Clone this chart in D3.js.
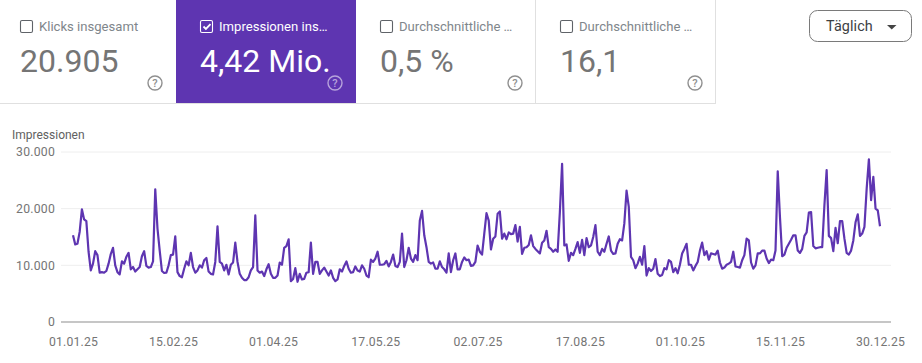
<!DOCTYPE html>
<html><head><meta charset="utf-8">
<script src="https://cdnjs.cloudflare.com/ajax/libs/d3/7.8.5/d3.min.js"></script>
<style>html,body{margin:0;padding:0;background:#fff;overflow:hidden}svg{display:block}text{font-family:Roboto,sans-serif}</style>
</head><body><svg id="c" width="922" height="363"></svg>
<script>
const cardTitles=["Klicks insgesamt","Impressionen ins…","Durchschnittliche …","Durchschnittliche …"];
const cardValues=["20.905","4,42 Mio.","0,5 %","16,1"];
const cardActive=[false,true,false,false];
const yTicks=[0,10000,20000,30000];
const yTickLabels=["0","10.000","20.000","30.000"];
const xTickLabels=["01.01.25","15.02.25","01.04.25","17.05.25","02.07.25","17.08.25","01.10.25","15.11.25","30.12.25"];
const startDate="2025-01-01";
const impressions=[
15300,13700,13800,15900,19900,18100,17800,12400,9100,10300,12500,11800,8700,8800,8700,9000,10300,12000,13100,10000,
8800,8400,10700,10300,11500,12200,9300,9700,8900,9300,9700,11600,12500,9900,9600,9700,10700,23400,16500,12600,
9000,8650,8700,10000,11800,11900,15100,8800,8100,7900,9400,10700,10000,12200,9700,8700,9100,10000,9600,10900,
11300,8900,8500,8400,10600,16900,10600,10300,9100,10100,8400,10100,10500,14000,10600,8500,7800,7400,7400,7900,
9100,9700,18800,9100,8700,8900,8100,9300,10200,8500,7800,7800,8200,10500,10100,13100,13400,14600,7200,7600,
9500,7100,8500,7500,7600,8700,8800,14000,8500,10600,10600,8500,9100,9600,8900,8200,9100,7800,7200,7500,
9300,8900,9900,10700,9400,8700,8800,9800,9100,8900,10000,9400,8200,7900,11000,10600,11200,12400,10100,10100,
10200,10800,9800,10600,11900,9900,9700,10600,15600,9700,10900,13100,11200,10600,11800,10900,17900,19600,15300,13200,
10600,10300,10500,9400,9400,10700,9700,9300,8700,12100,8800,10900,12100,9300,9300,10600,11400,10900,11000,9900,
10000,10600,13500,12400,11900,15600,19200,17900,12800,14700,15100,19100,19500,14700,15600,14600,15800,15500,15600,17100,
14200,16800,12000,13100,13200,13600,15300,13400,12900,12500,12100,14000,14400,16100,13200,12900,12400,12800,12400,19400,
27900,13500,13700,10800,12200,11800,12900,14100,12200,14500,11800,14800,13200,13500,15000,17100,12400,11800,12900,12400,
13800,15100,12600,12000,12100,13800,14600,14400,17400,23200,20300,11500,10900,9500,10300,11500,10100,13400,8200,9500,
9000,9400,11100,8500,8100,8300,9500,9300,10900,10600,8800,9500,8600,10100,12100,12900,13800,10100,10100,9100,
9900,10600,12600,14000,11800,12500,11000,12100,12000,11900,12600,10500,9400,9600,10100,10300,10600,12400,9800,9700,
9600,10900,11800,14700,14400,10500,9400,10000,12100,12100,12600,12600,11200,10400,11000,10900,12600,26600,18500,11600,
11900,13100,13800,14500,15300,15300,12600,12200,12900,15200,15800,19300,19400,13400,13000,13100,13200,13200,20600,26800,
15200,14800,12500,16600,13900,17800,17800,14700,12200,11900,12600,14400,17600,19000,15200,15600,16800,23500,28700,21500,
25600,20000,19700,16900];

const svg=d3.select("#c");
const parse=d3.utcParse("%Y-%m-%d");
const day0=parse(startDate);
const dates=impressions.map((_,i)=>d3.utcDay.offset(day0,i));
const x=d3.scaleUtc().domain([dates[0],dates[dates.length-1]]).range([73,880]);
const y=d3.scaleLinear().domain([0,30000]).range([322,152]);

/* cards */
const cardW=180, cardH=103, cardX=i=>i===0?-4:176+(i-1)*180;
const card=svg.selectAll("g.card").data(cardTitles).join("g").attr("class","card")
  .attr("transform",(d,i)=>`translate(${cardX(i)},0)`);
card.append("rect").attr("width",cardW).attr("height",cardH)
  .attr("fill",(d,i)=>cardActive[i]?"#5e35b1":"#fff");
svg.append("rect").attr("x",0).attr("y",103).attr("width",716).attr("height",1).attr("fill","#e0e0e0");
[535.5,715.5].forEach(p=>svg.append("line").attr("x1",p).attr("x2",p).attr("y1",0).attr("y2",103).attr("stroke","#e0e0e0"));
card.append("rect").attr("x",24.5).attr("y",20.5).attr("width",12).attr("height",12).attr("rx",1.5)
  .attr("fill","none").attr("stroke",(d,i)=>cardActive[i]?"#fff":"#5f6368").attr("stroke-width",1.1);
card.filter((d,i)=>cardActive[i]).append("path").attr("d","M27.5 26.5l2.4 2.4 4.6-4.8")
  .attr("fill","none").attr("stroke","#fff").attr("stroke-width",1.8);
card.append("text").attr("x",43).attr("y",30.5).attr("font-size",13.1)
  .attr("fill",(d,i)=>cardActive[i]?"#fff":"#80868b").text(d=>d);
card.append("text").data(cardValues).attr("x",24).attr("y",72).attr("font-size",32)
  .attr("fill",(d,i)=>cardActive[i]?"#fff":"#757575").text(d=>d);
const hx=155;
card.append("circle").attr("cx",hx+4).attr("cy",83).attr("r",7).attr("fill","none")
  .attr("stroke",(d,i)=>cardActive[i]?"#b7a3dc":"#8f8f8f").attr("stroke-width",1.4);
card.append("text").attr("x",hx+4).attr("y",87).attr("text-anchor","middle").attr("font-size",11).attr("font-weight",500)
  .attr("fill",(d,i)=>cardActive[i]?"#b7a3dc":"#8f8f8f").text("?");

/* button */
svg.append("rect").attr("x",809.5).attr("y",10.5).attr("width",102).attr("height",31).attr("rx",8)
  .attr("fill","#fff").attr("stroke","#7a7a7a").attr("stroke-width",1);
svg.append("text").attr("x",826).attr("y",31).attr("font-size",14.4).attr("letter-spacing",0.1).attr("fill","#3c4043").text("Täglich");
svg.append("path").attr("d","M887 25h9.5l-4.75 4.5z").attr("fill","#444");

/* grid + axes */
const right=d3.axisLeft(y).tickValues(yTicks).tickFormat((d,i)=>yTickLabels[i]).tickSize(0).tickPadding(0);
const gy=svg.append("g").attr("transform","translate(55,0)").call(right);
gy.select(".domain").remove();
gy.selectAll("text").attr("font-size",12.2).attr("font-family","Roboto,sans-serif").attr("fill","#757575").attr("letter-spacing",0.25).attr("dy","0.3em");
svg.append("g").selectAll("line").data(yTicks.filter(d=>d>0)).join("line")
  .attr("x1",61).attr("x2",891).attr("y1",d=>y(d)).attr("y2",d=>y(d)).attr("stroke","#eeeeee").attr("stroke-width",1);
svg.append("line").attr("x1",61).attr("x2",891).attr("y1",y(0)).attr("y2",y(0)).attr("stroke","#c6c6c6").attr("stroke-width",2);

const tickDates=xTickLabels.map(s=>{const [d,m,yy]=s.split(".");return parse(`20${yy}-${m}-${d}`)});
const gx=svg.append("g").attr("transform","translate(0,322)")
  .call(d3.axisBottom(x).tickValues(tickDates).tickFormat((d,i)=>xTickLabels[i]).tickSize(0).tickPadding(15));
gx.select(".domain").remove();
gx.selectAll("text").attr("font-size",12.2).attr("font-family","Roboto,sans-serif").attr("fill","#757575").attr("letter-spacing",0.2);

svg.append("text").attr("x",12).attr("y",138.5).attr("font-size",12).attr("fill","#616161").text("Impressionen");

const line=d3.line().x((d,i)=>x(dates[i])).y(d=>y(d));
svg.append("path").datum(impressions).attr("d",line).attr("fill","none")
  .attr("stroke","#5e35b1").attr("stroke-width",2.2).attr("stroke-linejoin","round");
</script></body></html>
